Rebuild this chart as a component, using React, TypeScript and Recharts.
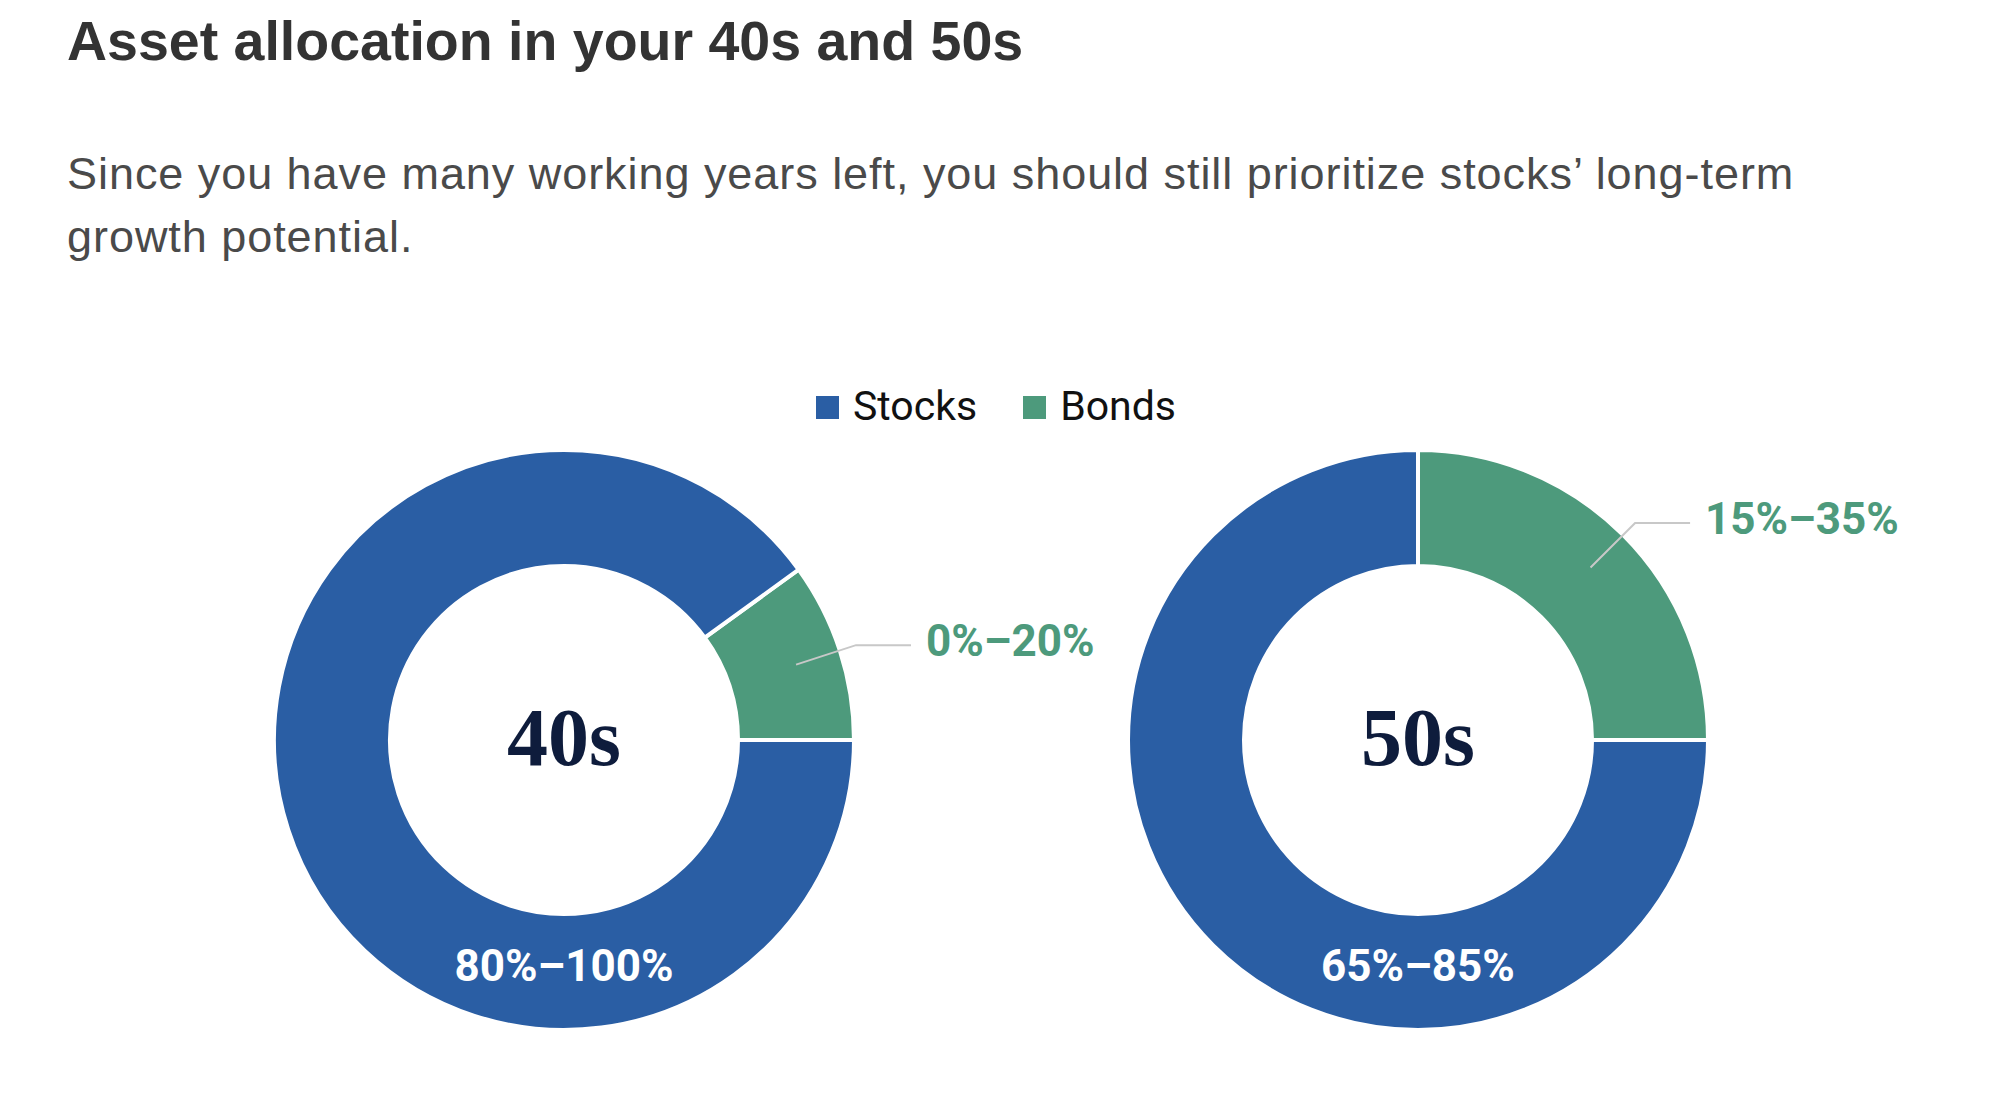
import React from "react";
import { PieChart, Pie, Cell, Label } from "recharts";

const categories = ["Stocks", "Bonds"];
const decades = ["40s", "50s"];
const stocksShare = [90, 75];
const bondsShare = [10, 25];
const stocksRange = ["80%–100%", "65%–85%"];
const bondsRange = ["0%–20%", "15%–35%"];

const COLORS: Record<string, string> = {
  Stocks: "#2a5ea4",
  Bonds: "#4d9a7c",
};

const RADIAN = Math.PI / 180;
const CENTERS = [564, 1418];
const CY = 740;
const INNER = 174;
const OUTER = 290;

const labelFont = "Roboto, 'Liberation Sans', sans-serif";

function makeLabel(i: number) {
  return (props: any) => {
    const { cx, cy, midAngle, outerRadius, index } = props;
    if (index === 1) {
      // stocks range sits at the bottom of the ring
      return (
        <text
          x={cx}
          y={cy + 241}
          textAnchor="middle"
          fill="#ffffff"
          fontFamily={labelFont}
          fontWeight={700}
          fontSize={44}
        >
          {stocksRange[i]}
        </text>
      );
    }
    const cos = Math.cos(-midAngle * RADIAN);
    const sin = Math.sin(-midAngle * RADIAN);
    const sx = cx + (outerRadius - 46) * cos;
    const sy = cy + (outerRadius - 46) * sin;
    const mx = cx + (outerRadius + 17) * cos;
    const my = cy + (outerRadius + 17) * sin;
    const ex = mx + 55;
    return (
      <g>
        <polyline
          points={`${sx},${sy} ${mx},${my} ${ex},${my}`}
          fill="none"
          stroke="#c8c8c8"
          strokeWidth={2}
        />
        <text
          x={ex + 15}
          y={my + 11}
          textAnchor="start"
          fill={COLORS.Bonds}
          fontFamily={labelFont}
          fontWeight={700}
          fontSize={44}
        >
          {bondsRange[i]}
        </text>
      </g>
    );
  };
}

export default function App() {
  const pies = decades.map((d, i) => [
    { name: "Bonds", value: bondsShare[i] },
    { name: "Stocks", value: stocksShare[i] },
  ]);

  return (
    <div
      style={{
        position: "absolute",
        left: 0,
        top: 0,
        width: 2014,
        height: 1104,
        background: "#ffffff",
        overflow: "hidden",
      }}
    >
      <PieChart
        width={2014}
        height={1104}
        margin={{ top: 0, right: 0, bottom: 0, left: 0 }}
        style={{ position: "absolute", left: 0, top: 0 }}
      >
        {pies.map((data, i) => (
          <Pie
            key={decades[i]}
            data={data}
            dataKey="value"
            nameKey="name"
            cx={CENTERS[i]}
            cy={CY}
            innerRadius={INNER}
            outerRadius={OUTER}
            startAngle={0}
            endAngle={360}
            stroke="#ffffff"
            strokeWidth={4}
            label={makeLabel(i)}
            labelLine={false}
            isAnimationActive={false}
          >
            {data.map((entry) => (
              <Cell key={entry.name} fill={COLORS[entry.name]} />
            ))}
            <Label
              position="center"
              content={() => (
                <text
                  x={CENTERS[i]}
                  y={CY + 25}
                  textAnchor="middle"
                  fill="#0e1c3c"
                  fontFamily="'Liberation Serif', 'DejaVu Serif', serif"
                  fontWeight={700}
                  fontSize={82}
                >
                  {decades[i]}
                </text>
              )}
            />
          </Pie>
        ))}
      </PieChart>

      <div
        style={{
          position: "absolute",
          left: 67,
          top: 8,
          fontFamily: "'Liberation Sans', Arial, sans-serif",
          fontWeight: 700,
          fontSize: 55.5,
          lineHeight: "66px",
          color: "#333333",
          whiteSpace: "nowrap",
        }}
      >
        Asset allocation in your 40s and 50s
      </div>

      <div
        style={{
          position: "absolute",
          left: 67,
          top: 142,
          fontFamily: "'Liberation Sans', Arial, sans-serif",
          fontSize: 45,
          letterSpacing: "0.95px",
          lineHeight: "63px",
          color: "#4a4a4a",
          whiteSpace: "nowrap",
        }}
      >
        Since you have many working years left, you should still prioritize stocks’ long-term
        <br />
        growth potential.
      </div>

      <div
        style={{
          position: "absolute",
          left: 816,
          top: 386,
          display: "flex",
          fontFamily: "Roboto, sans-serif",
          fontSize: 41,
          lineHeight: "40px",
          color: "#111111",
        }}
      >
        {categories.map((c, k) => (
          <div key={c} style={{ display: "flex", alignItems: "flex-start", marginLeft: k ? 46 : 0 }}>
            <div style={{ width: 23, height: 23, marginTop: 10, marginRight: 14, background: COLORS[c] }} />
            <span>{c}</span>
          </div>
        ))}
      </div>
    </div>
  );
}
